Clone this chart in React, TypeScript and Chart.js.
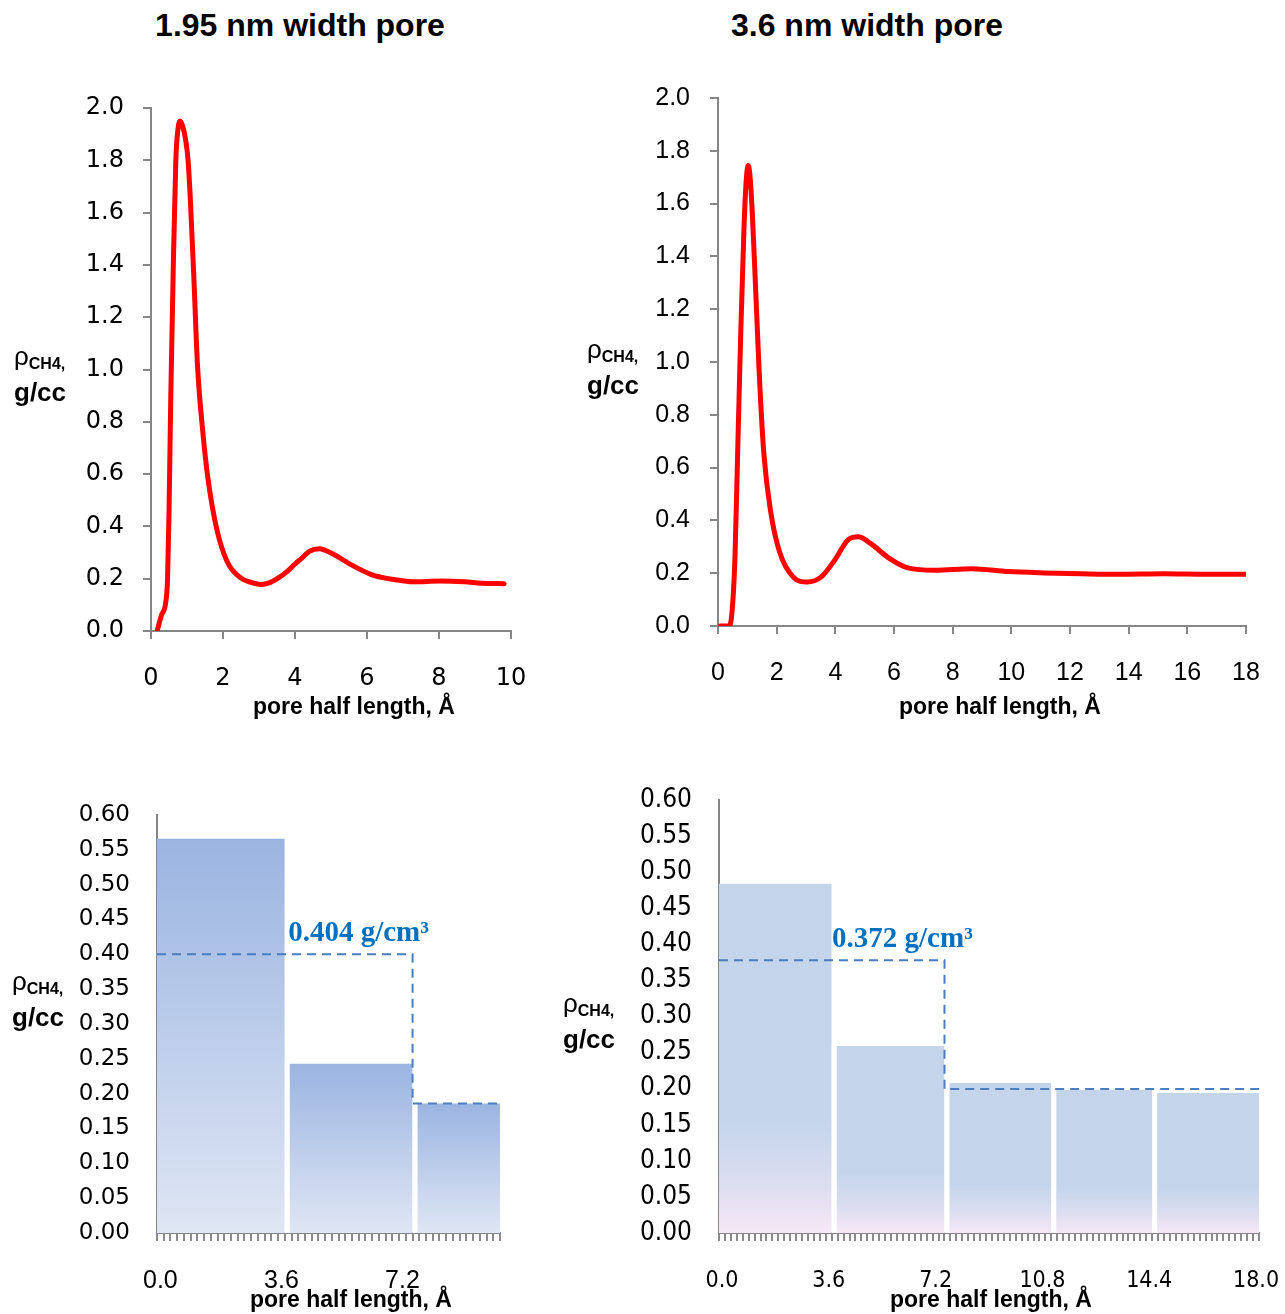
import React, { useEffect, useRef } from 'react';
import { Chart, registerables } from 'chart.js';

Chart.register(...registerables);

// ---------------- Data ----------------
const leftTitle = '1.95 nm width pore';
const rightTitle = '3.6 nm width pore';
const xAxisTitle = 'pore half length, Å';

// density profile, 1.95 nm pore (x in Å, y in g/cc)
const narrowX = [0.17, 0.29, 0.41, 0.46, 0.5, 0.55, 0.62, 0.69, 0.76, 0.81, 0.88, 0.96, 1.03, 1.1, 1.2, 1.29, 1.44, 1.58, 1.82, 2.11, 2.49, 2.8, 3.06, 3.3, 3.54, 3.8, 4.02, 4.2, 4.4, 4.69, 4.9, 5.17, 5.55, 6.12, 6.79, 7.27, 8.04, 8.71, 9.19, 9.81];
const narrowY = [0.0, 0.06, 0.11, 0.2, 0.45, 0.9, 1.4, 1.8, 1.93, 1.95, 1.93, 1.88, 1.8, 1.63, 1.32, 1.02, 0.76, 0.585, 0.394, 0.267, 0.203, 0.185, 0.178, 0.185, 0.203, 0.23, 0.259, 0.28, 0.305, 0.315, 0.305, 0.286, 0.254, 0.216, 0.196, 0.188, 0.191, 0.188, 0.183, 0.181];

// density profile, 3.6 nm pore
const wideX = [0.08, 0.36, 0.47, 0.58, 0.67, 0.78, 0.89, 0.97, 1.03, 1.12, 1.25, 1.4, 1.56, 1.79, 2.1, 2.57, 3.04, 3.51, 3.97, 4.44, 4.78, 5.22, 5.84, 6.47, 7.4, 8.65, 9.9, 11.14, 12.39, 13.64, 15.2, 16.7, 18.0];
const wideY = [0.0, 0.0, 0.044, 0.264, 0.657, 1.128, 1.521, 1.7, 1.744, 1.662, 1.364, 0.971, 0.657, 0.437, 0.28, 0.185, 0.167, 0.185, 0.248, 0.327, 0.338, 0.311, 0.256, 0.22, 0.211, 0.217, 0.206, 0.201, 0.198, 0.196, 0.198, 0.196, 0.196];

// histogram axis categories (Å)
const narrowCats = ['0.0', '0.2', '0.4', '0.6', '0.8', '1.0', '1.2', '1.4', '1.6', '1.8', '2.0', '2.2', '2.4', '2.6', '2.8', '3.0', '3.2', '3.4', '3.6', '3.8', '4.0', '4.2', '4.4', '4.6', '4.8', '5.0', '5.2', '5.4', '5.6', '5.8', '6.0', '6.2', '6.4', '6.6', '6.8', '7.0', '7.2', '7.4', '7.6', '7.8', '8.0', '8.2', '8.4', '8.6', '8.8', '9.0', '9.2', '9.4', '9.6', '9.8', '10.0'];
const wideCats = ['0.0', '0.2', '0.4', '0.6', '0.8', '1.0', '1.2', '1.4', '1.6', '1.8', '2.0', '2.2', '2.4', '2.6', '2.8', '3.0', '3.2', '3.4', '3.6', '3.8', '4.0', '4.2', '4.4', '4.6', '4.8', '5.0', '5.2', '5.4', '5.6', '5.8', '6.0', '6.2', '6.4', '6.6', '6.8', '7.0', '7.2', '7.4', '7.6', '7.8', '8.0', '8.2', '8.4', '8.6', '8.8', '9.0', '9.2', '9.4', '9.6', '9.8', '10.0', '10.2', '10.4', '10.6', '10.8', '11.0', '11.2', '11.4', '11.6', '11.8', '12.0', '12.2', '12.4', '12.6', '12.8', '13.0', '13.2', '13.4', '13.6', '13.8', '14.0', '14.2', '14.4', '14.6', '14.8', '15.0', '15.2', '15.4', '15.6', '15.8', '16.0', '16.2', '16.4', '16.6', '16.8', '17.0', '17.2', '17.4', '17.6', '17.8', '18.0'];

// histogram bins: edges (Å) and bin densities (g/cc)
const narrowEdges = [-0.1, 3.7, 7.5, 10.1];
const narrowBinVals = [0.566, 0.243, 0.186];
const wideEdges = [-0.1, 3.7, 7.5, 11.1, 14.5, 18.1];
const wideBinVals = [0.484, 0.259, 0.208, 0.198, 0.194];

// dashed average-density steps (x in Å at bin edges, y in g/cc)
const narrowMeanX = [-0.1, 7.5, 10.1];
const narrowMeanY = [0.4, 0.186, 0.186];
const wideMeanX = [-0.1, 7.5, 18.1];
const wideMeanY = [0.378, 0.1995, 0.1995];

const narrowAvgLabel = '0.404 g/cm³';
const narrowAvgAt = [3.8, 0.4186];
const wideAvgLabel = '0.372 g/cm³';
const wideAvgAt = [3.71, 0.396];

// ---------------- Styling helpers ----------------
const AXIS = '#868686';
const DEJAVU = '"DejaVu Sans", Verdana, sans-serif';
const ARIAL = '"Liberation Sans", Arial, sans-serif';
const CONDENSED = '"DejaVu Sans Condensed", "Liberation Sans Narrow", sans-serif';

function blockFill(stops: [number, string][]) {
  const cache = new Map<string, CanvasGradient>();
  return (c: any) => {
    const chart = c.chart;
    const pt = c.dataset && c.dataset.data && c.dataset.data[0];
    if (!chart.chartArea || !pt) return stops[0][1];
    const ys = chart.scales.y;
    const top = ys.getPixelForValue(pt.y);
    const base = ys.getPixelForValue(0);
    const key = `${top}|${base}`;
    let g = cache.get(key);
    if (!g) {
      g = chart.ctx.createLinearGradient(0, top, 0, base);
      stops.forEach(([o, col]) => g!.addColorStop(o, col));
      cache.set(key, g!);
    }
    return g;
  };
}

// white separators between adjacent bins, painted just before the dashed line
function gapPlugin(edges: number[], vals: number[]) {
  return {
    id: 'binGaps',
    beforeDatasetDraw(chart: any, args: any) {
      if (args.index !== 0) return;
      const { ctx, scales } = chart;
      const base = scales.y.getPixelForValue(0);
      ctx.save();
      ctx.fillStyle = '#ffffff';
      for (let k = 1; k < edges.length - 1; k++) {
        const px = scales.xd.getPixelForValue(edges[k]);
        const top = scales.y.getPixelForValue(vals[k]) - 1;
        ctx.fillRect(px, top, 5, base - top);
      }
      ctx.restore();
    },
  };
}

function annotationPlugin(text: string, at: number[]) {
  return {
    id: 'avgLabel',
    afterDatasetsDraw(chart: any) {
      const { ctx, scales } = chart;
      const px = scales.xd.getPixelForValue(at[0]);
      const py = scales.y.getPixelForValue(at[1]);
      ctx.save();
      ctx.font = 'bold 29px "Liberation Serif", "Times New Roman", serif';
      ctx.fillStyle = '#0070C0';
      ctx.textAlign = 'left';
      ctx.textBaseline = 'alphabetic';
      ctx.fillText(text, px, py);
      ctx.restore();
    },
  };
}

const fixY = (w: number) => (s: any) => {
  s.width = w;
  s.paddingTop = 0;
  s.paddingBottom = 0;
};
const fixX = (h: number) => (s: any) => {
  s.height = h;
  s.paddingLeft = 0;
  s.paddingRight = 0;
};

function lineConfig(xs: number[], ys: number[], xMax: number, o: any) {
  return {
    type: 'line',
    data: {
      datasets: [
        {
          data: xs.map((x, i) => ({ x, y: ys[i] })),
          borderColor: '#FF0000',
          borderWidth: 5,
          pointRadius: 0,
          fill: false,
          cubicInterpolationMode: 'monotone',
          borderJoinStyle: 'round',
          borderCapStyle: 'round',
        },
      ],
    },
    options: {
      responsive: false,
      animation: false,
      layout: { padding: o.padding },
      plugins: { legend: { display: false }, tooltip: { enabled: false } },
      scales: {
        x: {
          type: 'linear',
          min: 0,
          max: xMax,
          border: { color: AXIS, width: 2 },
          grid: { drawOnChartArea: false, tickLength: 8, color: AXIS, lineWidth: 2 },
          ticks: { stepSize: 2, padding: o.xPad, color: '#000', font: { family: o.font, size: o.size } },
          afterFit: fixX(o.xH),
        },
        y: {
          min: 0,
          max: 2,
          border: { color: AXIS, width: 2 },
          grid: { drawOnChartArea: false, tickLength: 8, color: AXIS, lineWidth: 2 },
          ticks: { stepSize: 0.2, autoSkip: false, padding: o.yPad, color: '#000', font: { family: o.font, size: o.size }, callback: (v: any) => Number(v).toFixed(1) },
          afterFit: fixY(o.yW),
        },
      },
    },
  };
}

function histConfig(cats: string[], edges: number[], vals: number[], meanX: number[], meanY: number[], stops: [number, string][], label: string, at: number[], o: any) {
  const fill = blockFill(stops);
  const bins = vals.map((v, k) => ({
    type: 'line',
    xAxisID: 'xd',
    yAxisID: 'y',
    data: [{ x: edges[k], y: v }, { x: edges[k + 1], y: v }],
    fill: 'origin',
    backgroundColor: fill,
    borderColor: 'rgba(0,0,0,0)',
    borderWidth: 0,
    pointRadius: 0,
    tension: 0,
    order: 1,
  }));
  return {
    type: 'line',
    data: {
      labels: cats,
      datasets: [
        {
          type: 'line',
          xAxisID: 'xd',
          yAxisID: 'y',
          data: meanX.map((x, i) => ({ x, y: meanY[i] })),
          stepped: 'before',
          borderColor: '#4A7EBF',
          borderWidth: 2,
          borderDash: [9, 6],
          pointRadius: 0,
          fill: false,
          order: 0,
        },
        ...bins,
      ],
    },
    options: {
      responsive: false,
      animation: false,
      layout: { padding: o.padding },
      plugins: { legend: { display: false }, tooltip: { enabled: false } },
      scales: {
        x: {
          type: 'category',
          offset: true,
          z: 1,
          border: { color: AXIS, width: 2 },
          grid: { offset: true, drawOnChartArea: false, tickLength: 8, color: '#8a8a8a', lineWidth: 2 },
          ticks: {
            autoSkip: false,
            maxRotation: 0,
            minRotation: 0,
            padding: o.xPad,
            color: '#000',
            font: { family: o.xFont, size: o.xSize },
            callback: (_v: any, i: number) => (i % 18 === 0 ? cats[i] : ''),
          },
          afterFit: fixX(o.xH),
        },
        xd: { type: 'linear', display: false, offset: false, min: edges[0], max: edges[edges.length - 1], grid: { offset: false } },
        y: {
          min: 0,
          max: 0.6,
          z: 1,
          border: { display: true, color: AXIS, width: 2 },
          grid: { display: false, drawTicks: false },
          ticks: { stepSize: 0.05, autoSkip: false, padding: o.yPad, color: '#000', font: { family: o.yFont, size: o.ySize }, callback: (v: any) => Number(v).toFixed(2) },
          afterFit: fixY(o.yW),
        },
      },
    },
    plugins: [gapPlugin(edges, vals), annotationPlugin(label, at)],
  };
}

function ChartBox({ config, left, top, width, height }: any) {
  const ref = useRef<HTMLCanvasElement | null>(null);
  useEffect(() => {
    if (!ref.current) return;
    const chart = new Chart(ref.current, config);
    return () => chart.destroy();
  }, []);
  return (
    <canvas
      ref={ref}
      width={width}
      height={height}
      style={{ position: 'absolute', left, top, width, height }}
    />
  );
}

function YLabel({ left, top }: { left: number; top: number }) {
  return (
    <div style={{ position: 'absolute', left, top, fontFamily: ARIAL, color: '#000', lineHeight: '32px', whiteSpace: 'nowrap' }}>
      <div>
        <span style={{ fontSize: 26 }}>ρ</span>
        <span style={{ fontSize: 16, fontWeight: 'bold', position: 'relative', top: 4 }}>CH4,</span>
      </div>
      <div style={{ fontSize: 26, fontWeight: 'bold' }}>g/cc</div>
    </div>
  );
}

function XTitle({ left, cy }: { left: number; cy: number }) {
  return (
    <div style={{ position: 'absolute', left, top: cy - 15, fontFamily: ARIAL, fontWeight: 'bold', fontSize: 23, lineHeight: '28px', color: '#000', whiteSpace: 'nowrap' }}>
      {xAxisTitle}
    </div>
  );
}

function Title({ text, cx }: { text: string; cx: number }) {
  return (
    <div style={{ position: 'absolute', left: cx - 250, top: 6, width: 500, textAlign: 'center', fontFamily: ARIAL, fontWeight: 'bold', fontSize: 32, lineHeight: '38px', color: '#000' }}>
      {text}
    </div>
  );
}

export default function App() {
  const tl = lineConfig(narrowX, narrowY, 10, {
    padding: { top: 48, right: 34, bottom: 0, left: 0 },
    font: DEJAVU, size: 24, xPad: 25, yPad: 19, xH: 109, yW: 151,
  });
  const tr = lineConfig(wideX, wideY, 18, {
    padding: { top: 38, right: 39, bottom: 0, left: 0 },
    font: ARIAL, size: 25, xPad: 24, yPad: 20, xH: 114, yW: 148,
  });
  const bl = histConfig(narrowCats, narrowEdges, narrowBinVals, narrowMeanX, narrowMeanY,
    [[0, '#9AB4E1'], [1, '#DFE6F4']], narrowAvgLabel, narrowAvgAt, {
      padding: { top: 35, right: 45, bottom: 0, left: 0 },
      xFont: ARIAL, xSize: 25, yFont: DEJAVU, ySize: 23, xPad: 25, yPad: 27, xH: 81, yW: 157,
    });
  const br = histConfig(wideCats, wideEdges, wideBinVals, wideMeanX, wideMeanY,
    [[0, '#C4D5EB'], [0.68, '#C4D5EB'], [0.86, '#DCDDF0'], [1, '#F6E8F6']], wideAvgLabel, wideAvgAt, {
      padding: { top: 20, right: 26, bottom: 0, left: 0 },
      xFont: CONDENSED, xSize: 23, yFont: CONDENSED, ySize: 26, xPad: 26, yPad: 27, xH: 81, yW: 169,
    });

  return (
    <div style={{ position: 'absolute', left: 0, top: 0, width: 1285, height: 1314, background: '#ffffff', overflow: 'hidden' }}>
      <ChartBox config={tl} left={0} top={60} width={545} height={680} />
      <ChartBox config={tr} left={570} top={60} width={715} height={680} />
      <ChartBox config={bl} left={0} top={780} width={545} height={534} />
      <ChartBox config={br} left={550} top={780} width={735} height={534} />
      <Title text={leftTitle} cx={300} />
      <Title text={rightTitle} cx={867} />
      <YLabel left={14} top={340} />
      <YLabel left={587} top={333} />
      <YLabel left={12} top={965} />
      <YLabel left={563} top={987} />
      <XTitle left={253} cy={707} />
      <XTitle left={899} cy={707} />
      <XTitle left={250} cy={1300} />
      <XTitle left={890} cy={1300} />
    </div>
  );
}
